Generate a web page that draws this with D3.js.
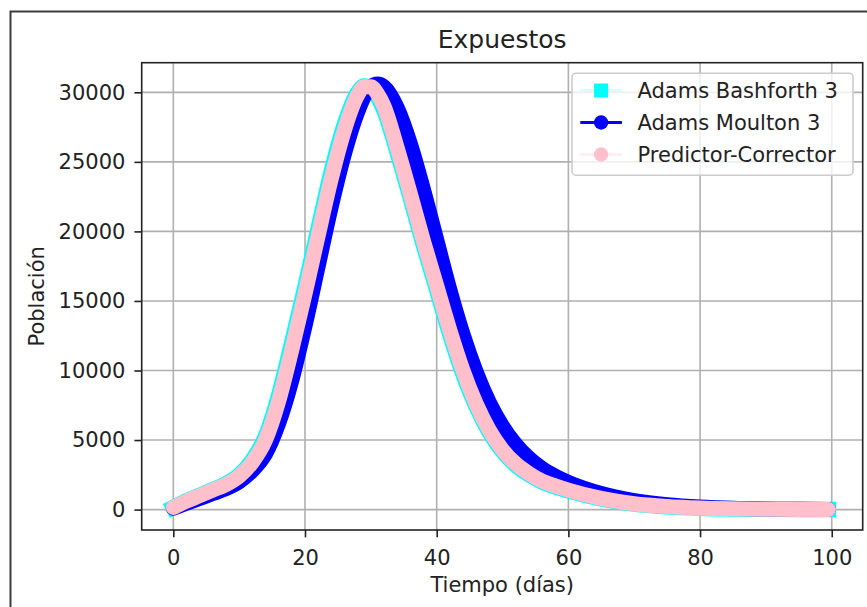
<!DOCTYPE html>
<html>
<head>
<meta charset="utf-8">
<script src="https://cdn.jsdelivr.net/npm/d3@7"></script>
<style>
  html, body { margin: 0; padding: 0; background: #fff; }
  svg { display: block; }
  text { font-family: "DejaVu Sans", sans-serif; fill: #222; }
</style>
</head>
<body>
<svg id="chart" width="867" height="607"></svg>
<script>
// Sample times (days) shared by the three integrators
const days = [0, 2, 4, 6, 8, 10, 12, 14, 16, 18, 20, 22, 24, 26, 28, 29, 30, 31, 32,
              34, 36, 38, 40, 42, 44, 46, 48, 50, 52, 54, 56, 58, 60, 65, 70, 75, 80,
              85, 90, 95, 99.5];

// Exposed population per method
const adamsBashforth3 = [160, 620, 1020, 1430, 1850, 2480, 3550, 5250, 8200, 12000, 16000,
  20200, 24300, 27700, 30000, 30450, 30300, 29700, 28700, 25700, 22400, 19000, 15800,
  12600, 9750, 7400, 5550, 4180, 3200, 2520, 1990, 1640, 1350, 770, 400, 210, 105, 52,
  26, 13, 7];

const adamsMoulton3 = [100, 450, 800, 1150, 1500, 2000, 2800, 4000, 6200, 9300, 13200,
  17500, 21800, 25600, 28600, 29700, 30400, 30600, 30400, 28900, 26300, 23000, 19400,
  15800, 12600, 9900, 7700, 6000, 4700, 3700, 2950, 2400, 1950, 1150, 650, 350, 180, 90,
  45, 22, 11];

const predictorCorrector = [150, 600, 1000, 1400, 1800, 2400, 3400, 5000, 7800, 11500,
  15500, 19700, 23800, 27300, 29800, 30400, 30400, 29900, 29000, 26000, 22700, 19300,
  16100, 12900, 10000, 7600, 5700, 4300, 3300, 2600, 2050, 1700, 1400, 800, 420, 220,
  110, 55, 28, 14, 7];

const xTicks = [0, 20, 40, 60, 80, 100];
const yTicks = [0, 5000, 10000, 15000, 20000, 25000, 30000];

const titleText = "Expuestos";
const xLabel = "Tiempo (días)";
const yLabel = "Población";
const seriesNames = ["Adams Bashforth 3", "Adams Moulton 3", "Predictor-Corrector"];

const svg = d3.select("#chart");
const W = 867, H = 607;

// figure frame
svg.append("rect").attr("x", 0).attr("y", 0).attr("width", W).attr("height", H).attr("fill", "#fff");
svg.append("rect")
  .attr("x", 10.5).attr("y", 11.5).attr("width", 900).attr("height", 700)
  .attr("fill", "#fff").attr("stroke", "#3c3c3c").attr("stroke-width", 2);

const plot = { left: 141.7, right: 862.7, top: 62.7, bottom: 530 };

const x = d3.scaleLinear().domain([-4.8, 104.7]).range([plot.left, plot.right]);
const y = d3.scaleLinear().domain([-1468, 32130]).range([plot.bottom, plot.top]);

// grid
const grid = svg.append("g").attr("stroke", "#b0b0b0").attr("stroke-width", 1.6);
xTicks.forEach(t => grid.append("line")
  .attr("x1", x(t)).attr("x2", x(t)).attr("y1", plot.top).attr("y2", plot.bottom));
yTicks.forEach(t => grid.append("line")
  .attr("x1", plot.left).attr("x2", plot.right).attr("y1", y(t)).attr("y2", y(t)));

// clip to axes area
svg.append("clipPath").attr("id", "clip").append("rect")
  .attr("x", plot.left).attr("y", plot.top)
  .attr("width", plot.right - plot.left).attr("height", plot.bottom - plot.top);

const band = vals => d3.line()
  .x((d, i) => x(days[i]))
  .y((d, i) => y(vals[i]))
  .curve(d3.curveMonotoneX)(vals);

const marks = svg.append("g").attr("clip-path", "url(#clip)");

// Adams Bashforth 3: square markers, drawn first
marks.append("path")
  .attr("d", band(adamsBashforth3))
  .attr("fill", "none").attr("stroke", "#00ffff")
  .attr("stroke-width", 15.6)
  .attr("stroke-linejoin", "round").attr("stroke-linecap", "square");

// Adams Moulton 3: blue line with circle markers
marks.append("path")
  .attr("d", band(adamsMoulton3))
  .attr("fill", "none").attr("stroke", "#0000ff")
  .attr("stroke-width", 15)
  .attr("stroke-linejoin", "round").attr("stroke-linecap", "round");

// Predictor-Corrector: pink circle markers, on top
marks.append("path")
  .attr("d", band(predictorCorrector))
  .attr("fill", "none").attr("stroke", "#ffc0cb")
  .attr("stroke-width", 15)
  .attr("stroke-linejoin", "round").attr("stroke-linecap", "round");

// axes
const fs = 21;
const xAxis = svg.append("g")
  .attr("transform", `translate(0,${plot.bottom})`)
  .call(d3.axisBottom(x).tickValues(xTicks).tickSize(7.3).tickPadding(8).tickFormat(d3.format("d")));
const yAxis = svg.append("g")
  .attr("transform", `translate(${plot.left},0)`)
  .call(d3.axisLeft(y).tickValues(yTicks).tickSize(7.3).tickPadding(9).tickFormat(d3.format("d")));

[xAxis, yAxis].forEach(a => {
  a.select(".domain").remove();
  a.selectAll(".tick line").attr("stroke", "#222").attr("stroke-width", 1.6);
  a.selectAll(".tick text").attr("font-size", fs).attr("fill", "#222")
    .style("font-family", "DejaVu Sans, sans-serif");
});
xAxis.selectAll(".tick text").attr("dy", null).attr("y", 35).attr("dominant-baseline", "auto");

// spines
svg.append("rect")
  .attr("x", plot.left).attr("y", plot.top)
  .attr("width", plot.right - plot.left).attr("height", plot.bottom - plot.top)
  .attr("fill", "none").attr("stroke", "#222").attr("stroke-width", 1.6);

// title and axis labels
svg.append("text").attr("x", (plot.left + plot.right) / 2).attr("y", 48)
  .attr("text-anchor", "middle").attr("font-size", 25).text(titleText);
svg.append("text").attr("x", (plot.left + plot.right) / 2).attr("y", 591.5)
  .attr("text-anchor", "middle").attr("font-size", fs).text(xLabel);
svg.append("text")
  .attr("transform", `translate(43.5,${(plot.top + plot.bottom) / 2}) rotate(-90)`)
  .attr("text-anchor", "middle").attr("font-size", fs).text(yLabel);

// legend
const lg = svg.append("g");
lg.append("rect")
  .attr("x", 572).attr("y", 73.2).attr("width", 281).attr("height", 102).attr("rx", 4)
  .attr("fill", "#fff").attr("fill-opacity", 0.8)
  .attr("stroke", "#cccccc").attr("stroke-width", 1.6);

const rowsY = [90.5, 122.5, 154.5];
const hx0 = 580.3, hx1 = 621.9, hxm = (hx0 + hx1) / 2;
const styles = [
  { line: "#d6ffff", lw: 3, marker: "square", color: "#00ffff" },
  { line: "#0000ff", lw: 3, marker: "circle", color: "#0000ff" },
  { line: "#fff0f3", lw: 3, marker: "circle", color: "#ffc0cb" }
];
seriesNames.forEach((name, i) => {
  const s = styles[i], cy = rowsY[i];
  lg.append("line").attr("x1", hx0).attr("x2", hx1).attr("y1", cy).attr("y2", cy)
    .attr("stroke", s.line).attr("stroke-width", s.lw);
  if (s.marker === "square") {
    lg.append("rect").attr("x", hxm - 7).attr("y", cy - 7).attr("width", 14).attr("height", 14)
      .attr("fill", s.color);
  } else {
    lg.append("circle").attr("cx", hxm).attr("cy", cy).attr("r", 7.2).attr("fill", s.color);
  }
  lg.append("text").attr("x", 637.5).attr("y", cy).attr("dy", "0.36em")
    .attr("font-size", fs).text(name);
});
</script>
</body>
</html>
